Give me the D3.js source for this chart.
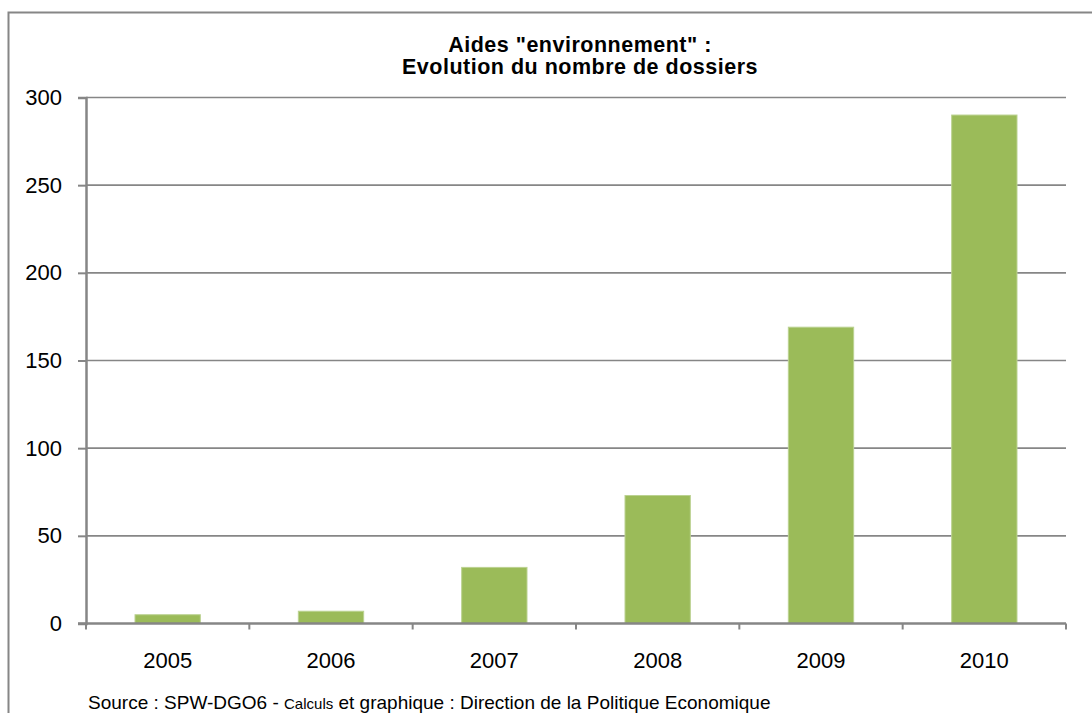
<!DOCTYPE html>
<html>
<head>
<meta charset="utf-8">
<script src="https://cdn.jsdelivr.net/npm/d3@7"></script>
<style>
  html, body { margin: 0; padding: 0; background: #fff; }
  svg { display: block; }
  text { font-family: "Liberation Sans", Arial, sans-serif; fill: #000; }
</style>
</head>
<body>
<svg id="chart" width="1092" height="713"></svg>
<script>
const categories = ["2005", "2006", "2007", "2008", "2009", "2010"];
const values = [5, 7, 32, 73, 169, 290];
const yTicks = [0, 50, 100, 150, 200, 250, 300];
const titleLines = ['Aides "environnement" :', 'Evolution du nombre de dossiers'];

const svg = d3.select("#chart");
const W = 1092, H = 713;
const plot = { left: 86, right: 1066, top: 97.5, bottom: 623.5 };

// outer chart border (top and left visible)
svg.append("path")
  .attr("d", `M8.5,${H} L8.5,12.5 L${W},12.5`)
  .attr("fill", "none").attr("stroke", "#868686").attr("stroke-width", 2);

const x = d3.scaleBand().domain(categories).range([plot.left, plot.right]).paddingInner(0.6).paddingOuter(0.3);
const xBand = d3.scaleBand().domain(categories).range([plot.left, plot.right]);
const y = d3.scaleLinear().domain([0, 300]).range([plot.bottom, plot.top]);

// gridlines
svg.append("g").selectAll("line").data(yTicks.filter(d => d > 0)).join("line")
  .attr("x1", plot.left).attr("x2", plot.right)
  .attr("y1", d => y(d)).attr("y2", d => y(d))
  .attr("stroke", "#868686").attr("stroke-width", 1.6);

// bars
svg.append("g").selectAll("rect").data(values).join("rect")
  .attr("x", (d, i) => x(categories[i]))
  .attr("width", x.bandwidth())
  .attr("y", d => y(d))
  .attr("height", d => y(0) - y(d))
  .attr("fill", "#9BBB59")
  .attr("stroke", "#BBD291").attr("stroke-width", 1);

// y axis
const yAxis = d3.axisLeft(y).tickValues(yTicks).tickSize(8).tickPadding(16);
const gy = svg.append("g").attr("transform", `translate(${plot.left},0)`).call(yAxis);
gy.select(".domain").attr("stroke", "#868686").attr("stroke-width", 2.5);
gy.selectAll(".tick line").attr("stroke", "#868686").attr("stroke-width", 2);
gy.selectAll(".tick text").attr("font-size", 22).attr("font-family", '"Liberation Sans", Arial, sans-serif').attr("fill", "#000");

// x axis line
svg.append("line").attr("x1", plot.left - 8).attr("x2", plot.right)
  .attr("y1", y(0)).attr("y2", y(0))
  .attr("stroke", "#868686").attr("stroke-width", 2.5);
// category boundary ticks
const bounds = categories.map(c => xBand(c)).concat([plot.right]);
svg.append("g").selectAll("line").data(bounds).join("line")
  .attr("x1", d => d).attr("x2", d => d)
  .attr("y1", y(0)).attr("y2", y(0) + 6)
  .attr("stroke", "#868686").attr("stroke-width", 2);
// category labels
svg.append("g").selectAll("text").data(categories).join("text")
  .attr("x", d => xBand(d) + xBand.bandwidth() / 2)
  .attr("y", 668)
  .attr("text-anchor", "middle")
  .attr("font-size", 22)
  .text(d => d);

// title
svg.append("g").selectAll("text").data(titleLines).join("text")
  .attr("x", 580)
  .attr("y", (d, i) => 51.5 + i * 22.7)
  .attr("text-anchor", "middle")
  .attr("font-size", 21.5)
  .attr("letter-spacing", 0.5)
  .attr("font-weight", "bold")
  .text(d => d);

// source
const src = svg.append("text").attr("x", 88).attr("y", 709).attr("font-size", 19);
src.append("tspan").text("Source : SPW-DGO6 - ");
src.append("tspan").attr("font-size", 15).text("Calculs");
src.append("tspan").text(" et graphique : Direction de la Politique Economique");
</script>
</body>
</html>
